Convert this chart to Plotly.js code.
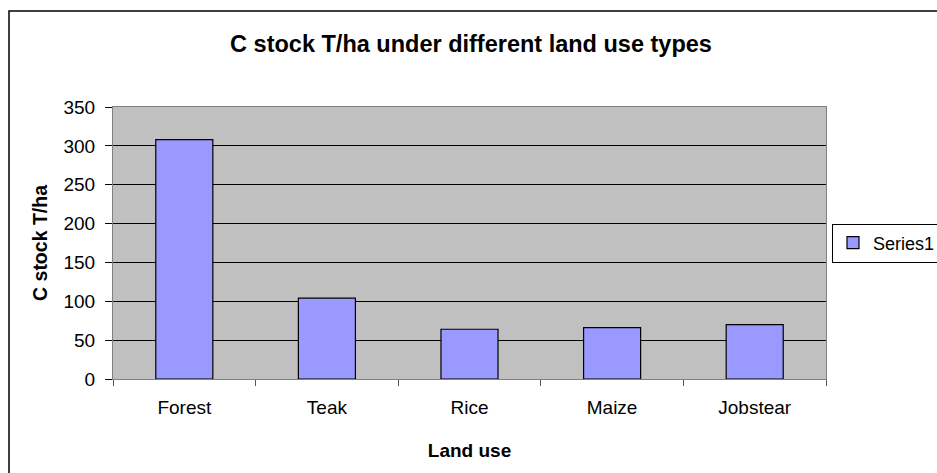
<!DOCTYPE html>
<html>
<head>
<meta charset="utf-8">
<script src="https://cdn.plot.ly/plotly-3.0.1.min.js"></script>
<style>
  html, body { margin: 0; padding: 0; background: #fff; }
  #chart { width: 937px; height: 473px; }
</style>
</head>
<body>
<div id="chart"></div>
<script>
// Carbon stock (T/ha) by land use
const landUse = ["Forest", "Teak", "Rice", "Maize", "Jobstear"];
const cStock = [308, 104, 64, 66, 70];
const yTicks = [0, 50, 100, 150, 200, 250, 300, 350];

const font = "Liberation Sans, Arial, sans-serif";

const trace = {
  type: "bar",
  name: "Series1",
  x: landUse,
  y: cStock,
  width: 0.4,
  marker: { color: "#9999ff", line: { color: "#000000", width: 1.2 } },
  hoverinfo: "x+y"
};

const layout = {
  width: 937,
  height: 473,
  margin: { l: 113, r: 111, t: 107, b: 94, pad: 0, autoexpand: false },
  paper_bgcolor: "#ffffff",
  plot_bgcolor: "#c0c0c0",
  font: { family: font, size: 19, color: "#000" },
  title: {
    text: "<b>C stock T/ha under different land use types</b>",
    font: { family: font, size: 23.5, color: "#000" },
    xref: "paper",
    x: (471 - 113) / 713, xanchor: "center",
    y: 1 - 44 / 473, yanchor: "middle"
  },
  xaxis: {
    type: "category",
    title: { text: "<b>Land use</b>", font: { family: font, size: 19 }, standoff: 26 },
    tickson: "boundaries",
    ticks: "outside",
    ticklen: 6,
    tickcolor: "#555",
    ticklabelstandoff: 11,
    showline: true,
    linecolor: "#808080",
    linewidth: 1,
    mirror: true,
    showgrid: false,
    automargin: false,
    tickfont: { family: font, size: 19 }
  },
  yaxis: {
    title: { text: "<b>C stock T/ha</b>", font: { family: font, size: 19.5 }, standoff: 10 },
    range: [0, 350],
    tickvals: yTicks,
    ticktext: yTicks.map(String),
    ticks: "outside",
    ticklen: 7,
    tickcolor: "#000",
    ticklabelstandoff: 6,
    showline: true,
    linecolor: "#808080",
    linewidth: 1,
    mirror: true,
    showgrid: true,
    gridcolor: "#000000",
    gridwidth: 1,
    zeroline: true,
    zerolinecolor: "#000000",
    zerolinewidth: 1,
    automargin: false,
    tickfont: { family: font, size: 19 }
  },
  showlegend: true,
  legend: {
    xref: "container", yref: "container",
    x: 832 / 937, xanchor: "left",
    y: 1 - 243 / 473, yanchor: "middle",
    bgcolor: "#ffffff",
    bordercolor: "#000000",
    borderwidth: 1,
    font: { family: font, size: 18 },
    itemwidth: 30
  },
  shapes: [{
    type: "rect",
    xref: "paper", yref: "paper",
    x0: (9 - 113) / 713, x1: (945 - 113) / 713,
    y0: (379 - 480) / 272, y1: (379 - 11) / 272,
    line: { color: "#000000", width: 1.5 },
    fillcolor: "rgba(0,0,0,0)",
    layer: "below"
  }],
  bargap: 0.6
};

Plotly.newPlot("chart", [trace], layout, { displayModeBar: false, staticPlot: true });
</script>
</body>
</html>
